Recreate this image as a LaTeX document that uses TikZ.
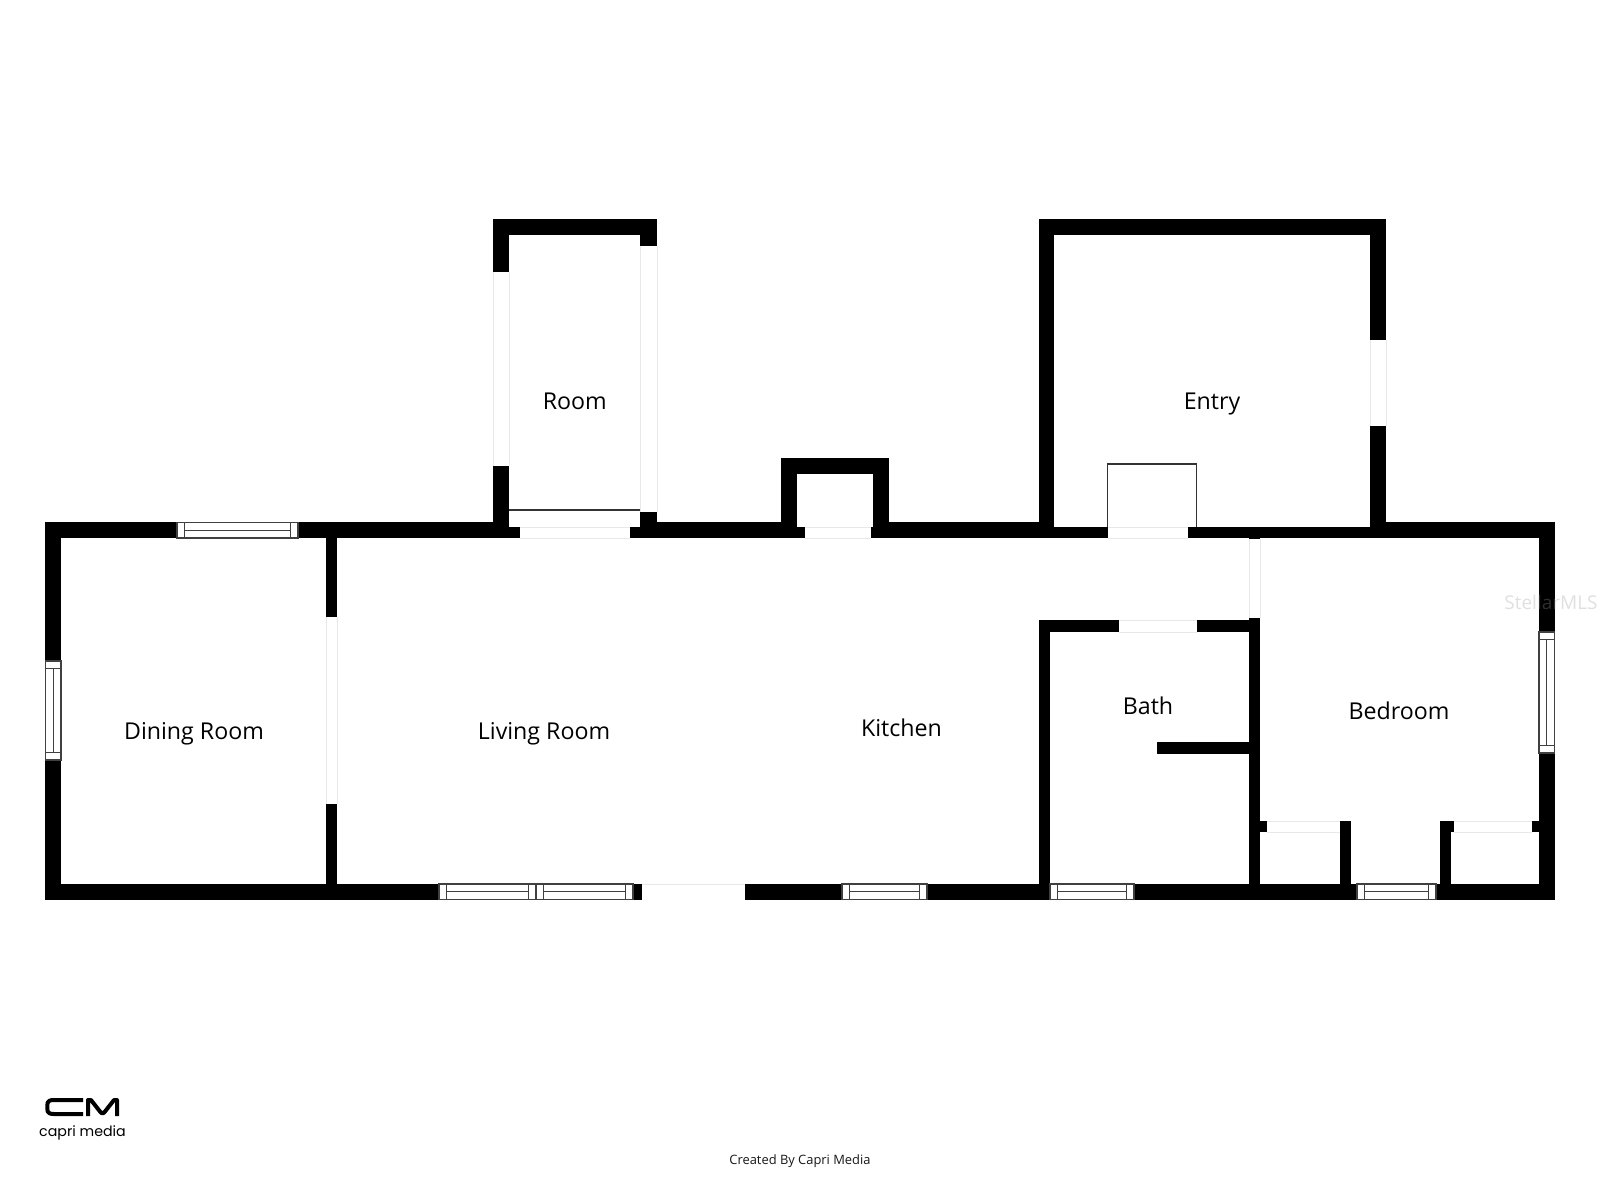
\documentclass[tikz,border=0pt]{standalone}
\usepackage{fontspec}
\setmainfont{Open Sans}
\newfontfamily\logofont{Poppins}
\newcommand\hwin[3]{%
  \fill[white] (#1,#3) rectangle (#2,#3+15.5);
  \draw[winline] (#1,#3) rectangle (#2,#3+15.5);
  \draw[winline] (#1+7.5,#3) -- (#1+7.5,#3+15.5);
  \draw[winline] (#2-7.5,#3) -- (#2-7.5,#3+15.5);
  \draw[winline] (#1+7.5,#3+7.75) -- (#2-7.5,#3+7.75);}
\newcommand\vwin[3]{%
  \fill[white] (#1,#2) rectangle (#1+15.5,#3);
  \draw[winline] (#1,#2) rectangle (#1+15.5,#3);
  \draw[winline] (#1,#2+7.5) -- (#1+15.5,#2+7.5);
  \draw[winline] (#1,#3-7.5) -- (#1+15.5,#3-7.5);
  \draw[winline] (#1+7.75,#2+7.5) -- (#1+7.75,#3-7.5);}
\newcommand\hgap[4]{% x0 x1 y0 y1
  \fill[white] (#1,#3) rectangle (#2,#4);
  \draw[gapline] (#1,#3) -- (#2,#3) (#1,#4) -- (#2,#4);}
\newcommand\vgap[4]{% x0 x1 y0 y1
  \fill[white] (#1,#3) rectangle (#2,#4);
  \draw[gapline] (#1,#3) -- (#1,#4) (#2,#3) -- (#2,#4);}
\tikzset{
  wall/.style={fill=black},
  winline/.style={draw=black!75,line width=1.1pt},
  gapline/.style={draw=black!9,line width=0.8pt},
  thinline/.style={draw=black!80,line width=1.1pt},
  roomlabel/.style={font=\fontsize{23.2}{28}\selectfont,text=black,inner sep=0pt},
}
\begin{document}
\begin{tikzpicture}[x=1pt,y=-1pt]
\useasboundingbox (0,0) rectangle (1600,1200);
\fill[white] (0,0) rectangle (1600,1200);
% outer shell
\fill[wall] (45,522) rectangle (1555,538);
\fill[wall] (45,884) rectangle (1555,900);
\fill[wall] (45,522) rectangle (61,900);
\fill[wall] (1539,522) rectangle (1555,900);
% thinner top band inside entry, room, bump
\fill[white] (509,510) rectangle (640,527);
\fill[white] (1054,515) rectangle (1370,527);
\fill[white] (797,515) rectangle (873,527);
% dining/living wall
\fill[wall] (326,530) rectangle (337,900);
% room
\fill[wall] (493,218.5) rectangle (657,235);
\fill[wall] (493,218.5) rectangle (509,527);
\fill[wall] (640,218.5) rectangle (657,527);
% bump
\fill[wall] (781,458) rectangle (889,474);
\fill[wall] (781,458) rectangle (797,527);
\fill[wall] (873,458) rectangle (889,527);
% entry
\fill[wall] (1038.5,218.5) rectangle (1386,235);
\fill[wall] (1038.5,218.5) rectangle (1054,527);
\fill[wall] (1370,218.5) rectangle (1386,527);
% bath
\fill[wall] (1038.5,620) rectangle (1260,632);
\fill[wall] (1038.5,620) rectangle (1050,900);
\fill[wall] (1249,527) rectangle (1260,900);
\fill[wall] (1157,742) rectangle (1249,754);
% closets
\fill[wall] (1260,821) rectangle (1351,832);
\fill[wall] (1340,821) rectangle (1351,900);
\fill[wall] (1440,821) rectangle (1539,832);
\fill[wall] (1440,821) rectangle (1451,900);
% gaps (openings)
\vgap{326}{337}{617}{804}
\vgap{493}{509}{272}{466}
\vgap{640}{657}{246}{512}
\vgap{1370}{1386}{340}{425.5}
\vgap{1249}{1260}{539}{618}
\hgap{520}{630}{527}{538}
\hgap{805}{871}{527}{538}
\hgap{1108}{1188}{527}{538}
\hgap{1119}{1197}{620}{632}
\hgap{1267}{1340}{821}{832}
\hgap{1454}{1532}{821}{832}
\fill[white] (642,884) rectangle (745,900.5);
\draw[gapline] (642,884) -- (745,884);
% windows
\hwin{177}{298}{522.5}
\hwin{439}{536}{884}
\hwin{536}{633}{884}
\hwin{842}{927}{884}
\hwin{1050}{1134}{884}
\hwin{1357}{1436}{884}
\vwin{45.5}{661}{760}
\vwin{1539}{632}{753}
% thin fittings
\draw[thinline] (509,510) -- (640,510);
\draw[thinline] (1107.5,527) -- (1107.5,464) -- (1196.7,464) -- (1196.7,527);
% labels
\node[roomlabel] (dining) at (194,734) {Dining Room};
\node[roomlabel] (living) at (544,734) {Living Room};
\node[roomlabel] (kitchen) at (901.5,728) {Kitchen};
\node[roomlabel] (bath) at (1148,706) {Bath};
\node[roomlabel] (bedroom) at (1399,711) {Bedroom};
\node[roomlabel] (room) at (574.8,401) {Room};
\node[roomlabel] (entry) at (1212,404) {Entry};
\node[font=\fontsize{12.9}{15}\selectfont,text=black!90,inner sep=0pt] (credit) at (800,1161) {Created By Capri Media};
% watermark
\node[font=\fontsize{19}{25}\selectfont,text=black!40,opacity=0.3,inner sep=0pt] (mark) at (1551,602) {StellarMLS};
% logo mark
\draw[line width=4pt,line join=round,line cap=butt,black]
  (83,1100) -- (54,1100) .. controls (46,1100) and (47.5,1104) .. (47.5,1107)
  .. controls (47.5,1110) and (46,1114) .. (54,1114) -- (83,1114);
\draw[line width=4pt,line join=round,black]
  (88,1116) -- (88,1100) -- (91,1100) -- (100,1111.5) .. controls (102,1114) and (103,1114) .. (105,1111.5)
  -- (114,1100) -- (117,1100) -- (117,1116);
\node[font=\logofont\fontsize{14.2}{18}\selectfont,inner sep=0pt,text=black] (logo) at (82.5,1133) {capri media};
\end{tikzpicture}
\end{document}
